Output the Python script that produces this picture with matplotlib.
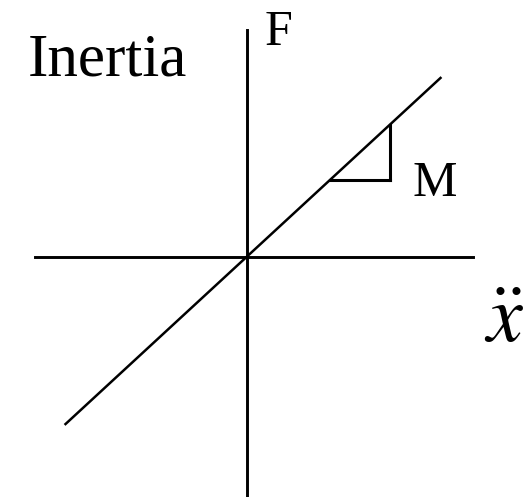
import matplotlib
matplotlib.use('Agg')
import matplotlib.pyplot as plt

plt.rcParams['font.family'] = ['Liberation Serif', 'DejaVu Serif']
plt.rcParams['mathtext.fontset'] = 'stix'

# 坐标轴范围（原点在中心）
x_axis = [-212, 226]
y_axis = [-240, 227]
# 直线 F = M * x
line_x = [-181, 194]
slope = 0.923
# 斜率三角形
tri_x = [83, 143]

fig = plt.figure(figsize=(5.30, 4.97), dpi=100)
ax = fig.add_axes([0, 0, 1, 1])
ax.set_xlim(-246.5, 283.5)
ax.set_ylim(-240, 257)
ax.axis('off')

ax.plot(x_axis, [0, 0], color='black', lw=2.1)
ax.plot([0, 0], y_axis, color='black', lw=2.1)
ax.plot(line_x, [slope * v for v in line_x], color='black', lw=1.8)

# 三角形：水平边和竖直边
ax.plot(tri_x, [slope * tri_x[0]] * 2, color='black', lw=2.2)
ax.plot([tri_x[1]] * 2, [slope * tri_x[0], slope * tri_x[1]], color='black', lw=2.2)

ax.text(-219, 182, 'Inertia', fontsize=44, ha='left', va='baseline')
ax.text(18, 212, 'F', fontsize=36, ha='left', va='baseline')
ax.text(166, 61, 'M', fontsize=36, ha='left', va='baseline')
ax.text(238, -85, r'$\ddot{x}$', fontsize=58, ha='left', va='baseline')

fig.savefig('out.png', dpi=100)
